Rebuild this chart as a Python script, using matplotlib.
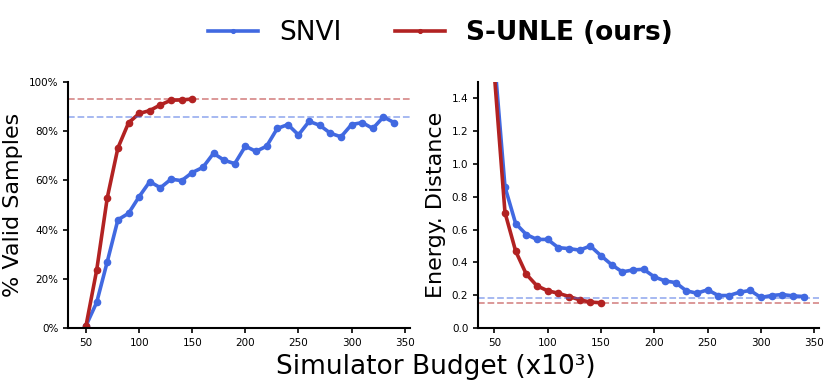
import matplotlib
matplotlib.use("Agg")
import matplotlib.pyplot as plt
from matplotlib.ticker import PercentFormatter

# Simulator budget (x10^3)
budget_snvi = list(range(50, 350, 10))
budget_unle = list(range(50, 160, 10))

# % valid samples
valid_snvi = [1, 10.4, 27, 44, 46.6, 53.4, 59.5, 57, 60.5, 59.9,
              63.2, 65.3, 71, 68.2, 66.8, 73.9, 71.8, 73.9, 81.1, 82.7,
              78.5, 84, 82.4, 79.2, 77.7, 82.7, 83.5, 81.1, 85.8, 83.5]
valid_unle = [1, 23.5, 53, 73.2, 83.4, 87.2, 88.4, 90.7, 92.6, 92.7, 93.1]
valid_ref_snvi = 85.7
valid_ref_unle = 93.1

# energy distance
energy_snvi = [1.65, 0.86, 0.637, 0.57, 0.54, 0.54, 0.49, 0.484, 0.475, 0.50,
               0.441, 0.386, 0.342, 0.354, 0.358, 0.312, 0.287, 0.277, 0.227, 0.212,
               0.233, 0.198, 0.198, 0.218, 0.229, 0.186, 0.198, 0.204, 0.196, 0.192]
energy_unle = [1.55, 0.704, 0.469, 0.328, 0.257, 0.227, 0.212, 0.192, 0.172, 0.158, 0.154]
energy_ref_snvi = 0.182
energy_ref_unle = 0.154

BLUE = "#4169E1"
RED = "#B22222"

fig = plt.figure(figsize=(8.31, 3.92), dpi=100)
ax1 = fig.add_axes([68 / 831, 1 - 328 / 392, (410 - 68) / 831, (328 - 82) / 392])
ax2 = fig.add_axes([478 / 831, 1 - 328 / 392, (819 - 478) / 831, (328 - 82) / 392])

line_kw = dict(marker="o", markersize=4.5, linewidth=2.6)

ax1.plot(budget_snvi, valid_snvi, color=BLUE, label="SNVI", **line_kw)
ax1.plot(budget_unle, valid_unle, color=RED, label="S-UNLE (ours)", **line_kw)
ax1.axhline(valid_ref_snvi, color=BLUE, ls="--", lw=1.3, alpha=0.5)
ax1.axhline(valid_ref_unle, color=RED, ls="--", lw=1.3, alpha=0.5)
ax1.set_ylim(0, 100)
ax1.set_xlim(33, 355)
ax1.yaxis.set_major_formatter(PercentFormatter(decimals=0))
ax1.set_ylabel("% Valid Samples", fontsize=16)

ax2.plot(budget_snvi, energy_snvi, color=BLUE, **line_kw)
ax2.plot(budget_unle, energy_unle, color=RED, **line_kw)
ax2.axhline(energy_ref_snvi, color=BLUE, ls="--", lw=1.3, alpha=0.5)
ax2.axhline(energy_ref_unle, color=RED, ls="--", lw=1.3, alpha=0.5)
ax2.set_ylim(0, 1.5)
ax2.set_xlim(34.7, 354.5)
ax2.set_yticks([0.0, 0.2, 0.4, 0.6, 0.8, 1.0, 1.2, 1.4])
ax2.set_ylabel("Energy. Distance", fontsize=16)

for ax in (ax1, ax2):
    ax.set_xticks([50, 100, 150, 200, 250, 300, 350])
    ax.spines["top"].set_visible(False)
    ax.spines["right"].set_visible(False)
    ax.spines["left"].set_linewidth(1.5)
    ax.spines["bottom"].set_linewidth(1.5)
    ax.tick_params(labelsize=7.5, width=1.2, length=3.5)

fig.text(0.525, 0.03, "Simulator Budget (x10³)", ha="center", va="bottom", fontsize=19)

handles, labels = ax1.get_legend_handles_labels()
leg = fig.legend(handles, labels, loc="upper center", bbox_to_anchor=(0.53, 1.01),
                 ncol=2, frameon=False, fontsize=19, handlelength=1.9,
                 columnspacing=2.0, markerscale=0.6)
for t in leg.get_texts():
    if "ours" in t.get_text():
        t.set_fontweight("bold")

plt.savefig("out.png", dpi=100)
